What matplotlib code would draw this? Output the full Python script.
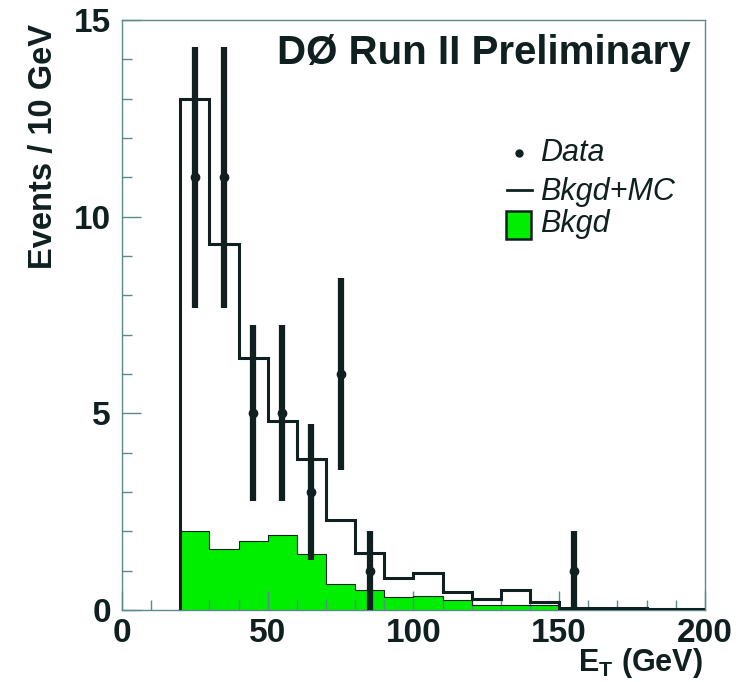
import matplotlib
matplotlib.use('Agg')
import matplotlib.pyplot as plt
from matplotlib.patches import Rectangle

plt.rcParams['font.family'] = ['Liberation Sans', 'DejaVu Sans']

# bin edges, 10 GeV wide from 20 to 200
edges = [20, 30, 40, 50, 60, 70, 80, 90, 100, 110, 120, 130, 140, 150, 160, 170, 180, 190, 200]

# Bkgd+MC histogram
bkgd_mc = [13.0, 9.3, 6.4, 4.8, 3.85, 2.3, 1.45, 0.82, 0.93, 0.45,
           0.28, 0.51, 0.2, 0.06, 0.05, 0.04, 0.03, 0.03]

# Bkgd histogram (green)
bkgd = [2.0, 1.55, 1.75, 1.9, 1.43, 0.66, 0.5, 0.33, 0.36, 0.25,
        0.13, 0.13, 0.12, 0.03, 0.02, 0.02, 0.02, 0.02]

# data points
data_x = [25, 35, 45, 55, 65, 75, 85, 155]
data_y = [11, 11, 5, 5, 3, 6, 1, 1]
data_err = [3.32, 3.32, 2.24, 2.24, 1.73, 2.45, 1.0, 1.0]

ink = '#102020'
green = '#00ee00'

fig = plt.figure(figsize=(7.42, 6.82), dpi=100)
ax = fig.add_axes([0.1644, 0.1056, 0.7856, 0.8651])

ax.stairs(bkgd, edges, fill=True, color=green, zorder=1)
ax.stairs(bkgd, edges, color=ink, lw=0.8, zorder=2)
ax.stairs(bkgd_mc, edges, color=ink, lw=2.2, zorder=3)
ax.errorbar(data_x, data_y, yerr=data_err, fmt='o', color=ink, ms=6,
            elinewidth=4.5, capsize=0, zorder=4)

ax.set_xlim(0, 200)
ax.set_ylim(0, 15)
ax.set_xticks([0, 50, 100, 150, 200])
ax.set_xticks(range(0, 201, 10), minor=True)
ax.set_yticks([0, 5, 10, 15])
ax.set_yticks(range(0, 16), minor=True)
ax.tick_params(which='both', direction='in', color='#5a8a8a', width=1)
ax.tick_params(which='major', length=14, labelsize=24, pad=8)
ax.tick_params(which='minor', length=7)
ax.tick_params(axis='x', pad=6)
for lab in ax.get_xticklabels() + ax.get_yticklabels():
    lab.set_fontweight('bold')
    lab.set_color(ink)
for sp in ax.spines.values():
    sp.set_color('#5a8a8a')
    sp.set_linewidth(1.0)

ax.text(0.975, 0.976, 'DØ Run II Preliminary', transform=ax.transAxes,
        ha='right', va='top', fontsize=29, fontweight='bold', color=ink)

ax.set_ylabel('Events / 10 GeV', fontsize=23.5, fontweight='bold', color=ink)
ax.yaxis.set_label_coords(-0.108, 0.786)
fig.text(0.947, 0.016, r'E$_\mathregular{T}$ (GeV)', ha='right', va='baseline',
         fontsize=22, fontweight='bold', color=ink)

# legend drawn by hand (rows are unevenly spaced in the original)
tr = ax.transAxes
ax.plot([0.681], [0.775], 'o', color=ink, ms=5, transform=tr, clip_on=False)
ax.plot([0.660, 0.703], [0.712, 0.712], color=ink, lw=2, transform=tr, clip_on=False)
ax.add_patch(Rectangle((0.659, 0.629), 0.043, 0.0475, facecolor=green,
                       edgecolor=ink, lw=1.8, transform=tr))
for label, yb in [('Data', 0.761), ('Bkgd+MC', 0.695), ('Bkgd', 0.641)]:
    ax.text(0.717, yb, label, transform=tr, ha='left', va='baseline',
            fontsize=22, fontstyle='italic', color=ink)

fig.savefig('out.png', dpi=100)
